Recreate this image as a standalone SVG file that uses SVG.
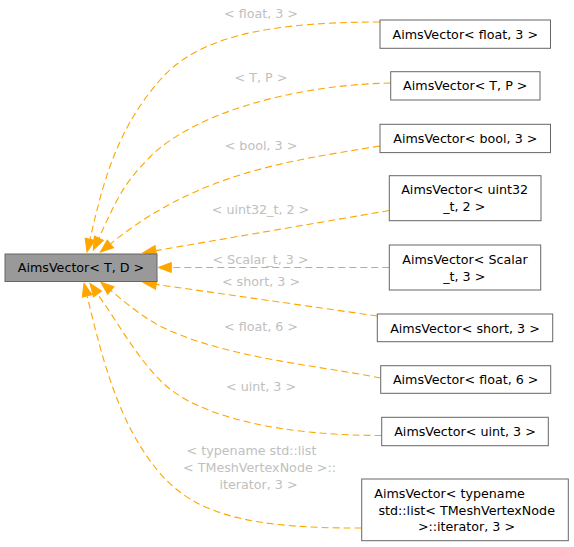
<svg xmlns="http://www.w3.org/2000/svg" width="574" height="547" viewBox="0 0 574 547">
<style>
  .box{fill:#ffffff;stroke:#666666;stroke-width:1}
  .main{fill:#999999;stroke:#666666;stroke-width:1}
  .t{font-family:"DejaVu Sans","Liberation Sans",sans-serif;font-size:12.7px;fill:#000000;text-anchor:middle}
  .lbl{font-family:"DejaVu Sans","Liberation Sans",sans-serif;font-size:12.7px;fill:#c0c0c0;text-anchor:middle}
  .e{fill:none;stroke:#ffa500;stroke-width:1.1;stroke-dasharray:7,4;marker-end:url(#arr)}
</style>
<defs>
  <marker id="arr" markerUnits="userSpaceOnUse" markerWidth="14" markerHeight="11" refX="0" refY="5" orient="auto" overflow="visible">
    <path d="M0,0 L13,5 L0,10 z" fill="#ffa500" stroke="#ffa500" stroke-width="1"/>
  </marker>
</defs>
<rect width="574" height="547" fill="#ffffff"/>
<g id="edges">
  <path class="e" d="M380,22 C260,22 196,39 160,80 C113.8,132.5 101.4,190.6 90,239.3"/>
  <path class="e" d="M390.7,83 C290.7,85 192,114.4 150,157 C122,185 115.6,202 98.8,238.2"/>
  <path class="e" d="M380,146 C280.8,162 195.8,174.6 110.4,243.9"/>
  <path class="e" d="M389.3,210.5 L155.8,250.6"/>
  <path class="e" d="M389.3,267.5 L171.3,267.5"/>
  <path class="e" d="M377.3,316 L156.2,284.4"/>
  <path class="e" d="M380.7,378 C312.1,364.7 230.4,358 166.7,329.3 C146.7,320.3 127.7,304.6 110.8,290.5"/>
  <path class="e" d="M381.7,435.5 C281.7,435.5 199,417.5 163,383 C136.4,357.5 118.7,323.6 97.5,293.9"/>
  <path class="e" d="M361.7,528 C251.7,528.5 195.8,515.1 160,473.3 C118.4,424.7 102.1,358.1 87.1,295.9"/>
  <text class="lbl" x="261" y="17.5">&lt; float, 3 &gt;</text>
  <text class="lbl" x="261" y="81.5">&lt; T, P &gt;</text>
  <text class="lbl" x="261" y="149.5">&lt; bool, 3 &gt;</text>
  <text class="lbl" x="260.5" y="213.5">&lt; uint32_t, 2 &gt;</text>
  <text class="lbl" x="260.5" y="263.5">&lt; Scalar_t, 3 &gt;</text>
  <text class="lbl" x="261" y="285.5">&lt; short, 3 &gt;</text>
  <text class="lbl" x="261" y="330.5">&lt; float, 6 &gt;</text>
  <text class="lbl" x="261" y="390.5">&lt; uint, 3 &gt;</text>
  <text class="lbl" x="251.5" y="454.5">&lt; typename std::list</text>
  <text class="lbl" x="259.5" y="471.5">&lt; TMeshVertexNode &gt;::</text>
  <text class="lbl" x="258.5" y="488.5">iterator, 3 &gt;</text>
</g>
<g id="node-main">
  <rect class="main" x="5" y="254" width="152" height="27.5"/>
  <text class="t" x="81" y="272.2">AimsVector&lt; T, D &gt;</text>
</g>
<g id="node-float3">
  <rect class="box" x="380" y="20" width="170.5" height="28.3"/>
  <text class="t" x="465.3" y="38.7">AimsVector&lt; float, 3 &gt;</text>
</g>
<g id="node-TP">
  <rect class="box" x="390.7" y="71.7" width="149.3" height="28.3"/>
  <text class="t" x="465.3" y="90.3">AimsVector&lt; T, P &gt;</text>
</g>
<g id="node-bool3">
  <rect class="box" x="380" y="124.3" width="170.5" height="28.3"/>
  <text class="t" x="465.3" y="143">AimsVector&lt; bool, 3 &gt;</text>
</g>
<g id="node-uint32">
  <rect class="box" x="389.3" y="175.7" width="151.7" height="45"/>
  <text class="t" x="464.7" y="193.8">AimsVector&lt; uint32</text>
  <text class="t" x="464.3" y="211.2">_t, 2 &gt;</text>
</g>
<g id="node-scalar">
  <rect class="box" x="389.3" y="245" width="151.4" height="45"/>
  <text class="t" x="465" y="263.5">AimsVector&lt; Scalar</text>
  <text class="t" x="464.3" y="281.2">_t, 3 &gt;</text>
</g>
<g id="node-short3">
  <rect class="box" x="377.3" y="314" width="175.4" height="27.7"/>
  <text class="t" x="465" y="332.5">AimsVector&lt; short, 3 &gt;</text>
</g>
<g id="node-float6">
  <rect class="box" x="380.7" y="365.7" width="170" height="27.6"/>
  <text class="t" x="465.7" y="384">AimsVector&lt; float, 6 &gt;</text>
</g>
<g id="node-uint3">
  <rect class="box" x="381.7" y="417.3" width="166.6" height="28.4"/>
  <text class="t" x="465" y="436">AimsVector&lt; uint, 3 &gt;</text>
</g>
<g id="node-typename">
  <rect class="box" x="361.7" y="479" width="206.6" height="61.7"/>
  <text class="t" x="449.5" y="497.8">AimsVector&lt; typename</text>
  <text class="t" x="466.7" y="515.2">std::list&lt; TMeshVertexNode</text>
  <text class="t" x="466.5" y="531.2">&gt;::iterator, 3 &gt;</text>
</g>
</svg>
